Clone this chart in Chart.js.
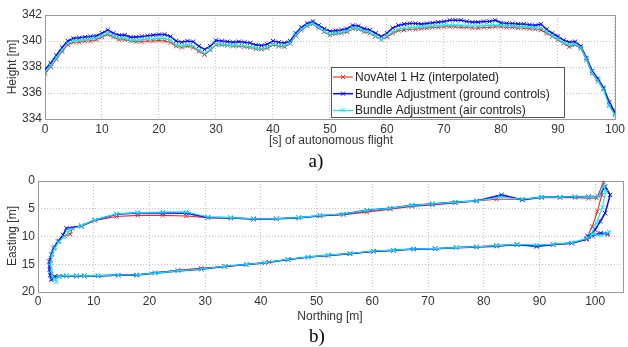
<!DOCTYPE html>
<html>
<head>
<meta charset="utf-8">
<script src="https://cdn.jsdelivr.net/npm/chart.js@4.4.1/dist/chart.umd.min.js"></script>
<style>
  body { margin: 0; background: #fff; width: 628px; height: 347px; position: relative; overflow: hidden;
         font-family: "Liberation Sans", Arial, sans-serif; }
  canvas { position: absolute; left: 0; }
  #heightChart { top: 0; }
  #trackChart { top: 160px; }
  .lbl { position: absolute; font-size: 12px; color: #333; white-space: nowrap; transform: translate(-50%, -50%); }
  .rot { transform: translate(-50%, -50%) rotate(-90deg); }
  .cap { position: absolute; font-family: "Liberation Serif", "Times New Roman", serif; font-size: 19px;
         color: #000; transform: translate(-50%, -50%); }
</style>
</head>
<body>
<canvas id="heightChart" width="628" height="150"></canvas>
<canvas id="trackChart" width="628" height="187"></canvas>
<div class="lbl rot" style="left:12px;top:67px">Height [m]</div>
<div class="lbl" style="left:331px;top:140px">[s] of autonomous flight</div>
<div class="cap" style="left:316px;top:161px">a)</div>
<div class="lbl rot" style="left:12px;top:236px">Easting [m]</div>
<div class="lbl" style="left:330px;top:316px">Northing [m]</div>
<div class="cap" style="left:317px;top:336px">b)</div>
<script>
// a) height over time
const seconds = [0,1,2,3,4,5,6,7,8,9,10,11,12,13,14,15,16,17,18,19,20,21,22,23,24,25,26,27,28,29,
  30,31,32,33,34,35,36,37,38,39,40,41,42,43,44,45,46,47,48,49,50,51,52,53,54,55,56,57,58,59,
  60,61,62,63,64,65,66,67,68,69,70,71,72,73,74,75,76,77,78,79,80,81,82,83,84,85,86,87,88,89,
  90,91,92,93,94,95,96,97,98,99,100];

const heightNovatel = [337.5,338.0,338.6,339.2,339.7,339.9,339.9,340.0,340.0,340.1,
  340.3,340.5,340.3,340.1,340.1,340.0,339.95,339.95,340.0,340.0,
  340.05,340.0,339.9,339.6,339.5,339.6,339.5,339.2,338.95,339.3,
  339.7,339.7,339.65,339.6,339.6,339.55,339.5,339.4,339.35,339.45,
  339.7,339.6,339.55,339.8,340.4,340.85,341.15,341.3,341.0,340.7,
  340.45,340.55,340.6,340.7,340.95,340.9,340.7,340.6,340.35,340.1,
  340.3,340.6,340.8,340.85,340.9,340.9,340.95,341.0,341.05,341.05,
  341.1,341.1,341.1,341.05,341.05,341.0,341.0,341.05,341.05,341.1,
  341.1,341.05,341.05,341.0,341.0,340.95,340.9,340.85,340.6,340.35,
  340.1,339.8,339.55,339.7,339.45,338.55,337.5,336.9,336.3,335.1,
  334.4];

const heightGround = [337.8,338.3,338.9,339.5,340.0,340.2,340.25,340.3,340.35,340.4,
  340.6,340.85,340.6,340.45,340.45,340.3,340.3,340.35,340.4,340.45,
  340.5,340.5,340.35,340.0,339.9,340.0,339.95,339.6,339.35,339.6,
  340.05,340.0,339.95,339.9,339.95,339.9,339.85,339.7,339.65,339.75,
  340.0,339.9,339.85,340.0,340.6,341.05,341.35,341.5,341.2,340.95,
  340.75,340.8,340.85,340.95,341.2,341.15,340.95,340.85,340.6,340.35,
  340.6,341.0,341.2,341.3,341.35,341.35,341.3,341.35,341.4,341.45,
  341.5,341.6,341.6,341.6,341.5,341.45,341.45,341.5,341.5,341.6,
  341.4,341.35,341.35,341.3,341.3,341.25,341.2,341.3,340.9,340.6,
  340.35,340.05,339.9,339.95,339.6,338.7,337.7,337.1,336.4,335.3,
  334.5];

const heightAir = [337.6,338.1,338.7,339.3,339.8,340.0,340.05,340.1,340.15,340.2,
  340.4,340.6,340.4,340.2,340.2,340.05,340.05,340.1,340.15,340.15,
  340.2,340.2,340.05,339.7,339.6,339.7,339.6,339.3,339.05,339.35,
  339.75,339.75,339.7,339.65,339.65,339.6,339.55,339.45,339.4,339.5,
  339.75,339.65,339.6,339.85,340.45,340.9,341.2,341.35,341.05,340.75,
  340.5,340.6,340.65,340.75,341.0,340.95,340.75,340.65,340.4,340.1,
  340.4,340.7,340.9,341.0,341.0,341.05,341.05,341.1,341.15,341.15,
  341.2,341.2,341.2,341.2,341.15,341.15,341.15,341.15,341.2,341.2,
  341.2,341.15,341.15,341.1,341.1,341.05,341.0,341.0,340.7,340.4,
  340.15,339.85,339.7,339.75,339.5,338.6,337.55,336.95,336.25,335.0,
  334.3];

const secondTicks = [0,10,20,30,40,50,60,70,80,90,100];
const heightTicks = [334,336,338,340,342];

// b) ground track (northing, easting)
const novatelNorth = [102.2,100.8,99.3,98.4,95.8,92.5,89.5,86,82.3,78.7,75.1,71.3,67.4,63.8,60.2,56,52.1,48.5,44.9,41.5,
  37.4,33.5,29.3,25.1,21,17.7,14.4,10.8,8.3,6.9,5.1,3.8,3.0,2.5,2.3,2.2,2.2,2.5,3.0,3.8,
  4.8,5.8,6.2,7.8,10.2,14.1,17.9,22.4,26.6,30.5,34.6,38.7,42.8,46.8,50.6,54.8,59,63.2,67.1,70.8,
  74.9,78.7,82.3,86.9,90.4,93.7,96.4,98.8,100.3,101.5,101.2,100.4,99.5,98.6];
const novatelEast = [9.6,9.5,9.9,10.5,11.2,11.5,11.7,11.5,11.6,11.85,12.0,12.2,12.3,12.5,12.7,13.1,13.4,13.75,14.15,14.6,
  15.1,15.4,15.7,16.1,16.5,16.95,17.0,17.1,17.1,17.1,17.05,17.15,17.2,17.6,16.8,15.8,14.3,13.1,11.9,10.8,
  9.9,9.6,8.5,8.1,7.1,6.4,6.2,6.2,6.3,6.6,6.7,6.85,6.8,6.6,6.3,6.05,5.6,5.1,4.6,4.3,
  3.95,3.6,3.3,3.3,3.0,3.0,3.0,3.1,3.1,0.2,2.5,5.5,8.2,10.0];

const groundNorth = [102.3,101,99.5,98.5,95.8,92.5,89.5,86,82.3,78.7,75.1,71.3,67.4,63.8,60.2,56,52.1,48.5,44.9,40.7,
  37.4,33.5,29.3,25.1,21,17.7,14.4,10.8,8.3,6.9,5.1,3.8,3.0,2.4,2.2,2.1,2.0,2.4,2.8,3.6,
  4.5,5.1,7.8,10.2,14.1,17.9,22.4,26.6,30.5,34.6,38.7,42.8,46.8,50.6,54.8,59,63.2,67.1,70.8,74.9,
  78.7,83.2,86.9,90.4,93.7,96.4,98.8,100.6,101.8,102.7,101.8,100.9,100,98.8];
const groundEast = [9.5,9.4,9.8,10.45,11.2,11.45,11.8,11.45,11.75,11.9,12.0,12.2,12.25,12.5,12.65,13.1,13.4,13.7,14.15,14.75,
  15.05,15.4,15.9,16.2,16.6,16.95,16.95,17.1,17.1,17.1,17.1,17.2,17.2,17.8,17.0,16.0,14.5,13.3,12.1,10.9,
  9.7,8.5,8.1,7.05,6.0,5.75,5.75,5.8,6.55,6.65,6.85,6.8,6.65,6.25,5.97,5.3,4.9,4.4,4.15,3.8,
  3.6,2.5,3.4,2.9,2.9,2.85,2.8,2.8,1.0,2.5,5.8,7.3,8.8,10.0];

const airNorth = [102.5,101.2,99.6,98.6,95.8,92.5,89.5,86,82.3,78.7,75.1,71.3,67.4,63.8,60.2,56,52.1,48.5,44.9,40.7,
  37.4,33.5,29.3,25.1,21,17.7,14.4,10.8,8.3,6.9,5.1,3.8,3.1,3.3,2.6,2.4,2.3,2.5,3.0,3.7,
  4.6,5.4,5.6,7.8,10.2,14.1,17.9,22.4,26.6,30.5,34.6,38.7,42.8,46.8,50.6,54.8,59,63.2,67.1,70.8,
  74.9,78.7,83.0,86.9,90.4,93.7,96.4,98.8,100.6,101.6,101.9,101.3,100.2,99.2];
const airEast = [9.2,9.8,9.6,10.3,11.1,11.4,11.5,11.4,11.65,11.85,12.0,12.15,12.25,12.45,12.6,13.05,13.35,13.7,14.1,14.7,
  15.05,15.35,15.85,16.2,16.6,16.9,16.95,17.05,17.1,17.05,17.05,17.2,17.6,18.1,17.4,16.2,14.8,13.3,12.1,11.0,
  10.1,9.4,8.8,8.05,7.0,5.95,5.7,5.6,5.55,6.5,6.6,6.8,6.75,6.6,6.2,5.95,5.3,4.9,4.4,4.15,
  3.8,3.6,2.9,3.3,2.9,2.9,2.85,2.85,2.8,0.8,2.0,4.8,7.6,9.8];

const northTicks = [0,10,20,30,40,50,60,70,80,90,100];
const eastTicks = [0,5,10,15,20];

const seriesNames = ["NovAtel 1 Hz (interpolated)", "Bundle Adjustment (ground controls)", "Bundle Adjustment (air controls)"];
const seriesColors = ["#ff2020", "#1010ff", "#00f0f0"];
const seriesWidths = [1.1, 1.6, 1.1];

Chart.defaults.font.family = '"Liberation Sans", Arial, sans-serif';
Chart.defaults.font.size = 12;
Chart.defaults.color = "#333";

function toPoints(xs, ys) {
  return xs.map((x, i) => ({ x: x, y: ys[i] }));
}

function fixedTicks(values) {
  return s => { s.ticks = values.map(v => ({ value: v })); };
}

function makeDatasets(lists) {
  return lists.map((pts, i) => ({
    label: seriesNames[i],
    data: pts,
    showLine: true,
    borderColor: seriesColors[i],
    backgroundColor: seriesColors[i],
    borderWidth: seriesWidths[i],
    pointStyle: "crossRot",
    pointRadius: 3,
    pointBorderWidth: 1,
    pointBorderColor: seriesColors[i],
    tension: 0,
    order: 2 - i
  }));
}

// plot frame like the matlab axes box
const frame = {
  id: "frame",
  beforeDatasetsDraw(chart) {
    const { ctx, chartArea: a } = chart;
    ctx.save();
    ctx.setLineDash([]);
    ctx.strokeStyle = "#9a9a9a";
    ctx.lineWidth = 1;
    ctx.strokeRect(Math.round(a.left) + 0.5, Math.round(a.top) + 0.5,
      Math.round(a.right - a.left), Math.round(a.bottom - a.top));
    ctx.restore();
  }
};

// legend box inside the plot
const boxLegend = {
  id: "boxLegend",
  afterDatasetsDraw(chart, args, opts) {
    if (!opts.box) return;
    const { ctx } = chart;
    const b = opts.box;
    ctx.save();
    ctx.fillStyle = "#fff";
    ctx.fillRect(b.x, b.y, b.w, b.h);
    ctx.strokeStyle = "#555";
    ctx.lineWidth = 1;
    ctx.strokeRect(b.x + 0.5, b.y + 0.5, b.w, b.h);
    chart.data.datasets.forEach((ds, i) => {
      const cy = b.y + 10 + i * b.rowH;
      ctx.strokeStyle = ds.borderColor;
      ctx.lineWidth = ds.borderWidth;
      ctx.beginPath();
      ctx.moveTo(b.x + 2, cy);
      ctx.lineTo(b.x + 22, cy);
      ctx.stroke();
      ctx.lineWidth = 1;
      ctx.beginPath();
      ctx.moveTo(b.x + 10, cy - 2); ctx.lineTo(b.x + 14, cy + 2);
      ctx.moveTo(b.x + 10, cy + 2); ctx.lineTo(b.x + 14, cy - 2);
      ctx.stroke();
      ctx.fillStyle = "#222";
      ctx.font = '12px "Liberation Sans", Arial, sans-serif';
      ctx.textBaseline = "middle";
      ctx.fillText(ds.label, b.x + 24, cy + 0.5);
    });
    ctx.restore();
  }
};

const gridStyle = { color: "#c4c4c4", lineWidth: 1, drawTicks: false, borderDash: [1, 2] };
const borderStyle = { display: false, dash: [1, 2] };

new Chart(document.getElementById("heightChart"), {
  type: "scatter",
  data: {
    datasets: makeDatasets([
      toPoints(seconds, heightNovatel),
      toPoints(seconds, heightGround),
      toPoints(seconds, heightAir)
    ])
  },
  options: {
    responsive: false,
    animation: false,
    layout: { padding: { top: 15, right: 11, left: 0, bottom: 0 } },
    plugins: {
      legend: { display: false },
      tooltip: { enabled: false },
      boxLegend: { box: { x: 331, y: 67, w: 233, h: 50, rowH: 16.7 } }
    },
    scales: {
      x: {
        type: "linear", min: 0, max: 100,
        ticks: { padding: 3, maxRotation: 0, autoSkip: false },
        afterBuildTicks: fixedTicks(secondTicks),
        grid: gridStyle, border: borderStyle,
        afterFit: s => { s.height = 31; }
      },
      y: {
        min: 334, max: 342,
        ticks: { padding: 3, autoSkip: false },
        afterBuildTicks: fixedTicks(heightTicks),
        grid: gridStyle, border: borderStyle,
        afterFit: s => { s.width = 45; }
      }
    }
  },
  plugins: [frame, boxLegend]
});

new Chart(document.getElementById("trackChart"), {
  type: "scatter",
  data: {
    datasets: makeDatasets([
      toPoints(novatelNorth, novatelEast),
      toPoints(groundNorth, groundEast),
      toPoints(airNorth, airEast)
    ])
  },
  options: {
    responsive: false,
    animation: false,
    layout: { padding: { top: 21, right: 5, left: 0, bottom: 0 } },
    plugins: { legend: { display: false }, tooltip: { enabled: false } },
    scales: {
      x: {
        type: "linear", min: 0, max: 105,
        ticks: { padding: 2, maxRotation: 0, autoSkip: false },
        afterBuildTicks: fixedTicks(northTicks),
        grid: gridStyle, border: borderStyle,
        afterFit: s => { s.height = 55; }
      },
      y: {
        reverse: true, min: 0, max: 20,
        ticks: { padding: 3, autoSkip: false },
        afterBuildTicks: fixedTicks(eastTicks),
        grid: gridStyle, border: borderStyle,
        afterFit: s => { s.width = 38; }
      }
    }
  },
  plugins: [frame]
});
</script>
</body>
</html>
